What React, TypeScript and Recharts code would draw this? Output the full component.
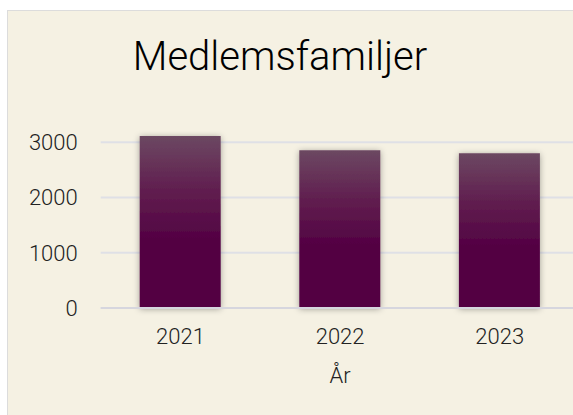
import { BarChart, Bar, XAxis, YAxis, CartesianGrid } from 'recharts';

const years = ['2021', '2022', '2023'];
const families = [3110, 2855, 2800];
const yTicks = [0, 1000, 2000, 3000];

const data = years.map((year, i) => ({ year, families: families[i] }));

const font = 'Roboto, "Noto Sans", sans-serif';

export default function App() {
  return (
    <div style={{ position: 'absolute', left: 0, top: 0, width: 573, height: 415, overflow: 'hidden', background: '#fff' }}>
      <div
        style={{
          position: 'absolute',
          left: 7,
          top: 10,
          width: 600,
          height: 440,
          background: '#f5f1e3',
          border: '1px solid #dcdcdc',
        }}
      />
      <div
        style={{
          position: 'absolute',
          left: 80,
          top: 32,
          width: 400,
          textAlign: 'center',
          fontFamily: font,
          fontSize: 40,
          fontWeight: 300,
          color: '#000',
          lineHeight: '50px',
        }}
      >
        Medlemsfamiljer
      </div>
      <div style={{ position: 'absolute', left: 0, top: 0 }}>
        <BarChart
          width={620}
          height={415}
          data={data}
          margin={{ top: 114.5, right: 40.5, bottom: 37, left: 0 }}
          style={{ fontFamily: font }}
        >
          <defs>
            <linearGradient id="barFill" x1="0" y1="0" x2="0" y2="1">
              <stop offset="0%" stopColor="#6c4862" />
              <stop offset="30%" stopColor="#612050" />
              <stop offset="60%" stopColor="#530243" />
              <stop offset="100%" stopColor="#520042" />
            </linearGradient>
            <filter id="barShadow" x="-20%" y="-10%" width="140%" height="120%">
              <feDropShadow dx="0" dy="1" stdDeviation="3" floodColor="#000" floodOpacity="0.35" />
            </filter>
          </defs>
          <CartesianGrid vertical={false} stroke="#dfe0e6" strokeWidth={2} horizontalValues={yTicks} />
          <XAxis
            dataKey="year"
            height={70}
            axisLine={{ stroke: '#d6d6de', strokeWidth: 2 }}
            tickLine={false}
            tickSize={0}
            tickMargin={20}
            tick={{ fill: '#222', fontSize: 22, fontWeight: 300 }}
            label={{ value: 'År', position: 'insideBottom', offset: -5, fill: '#222', fontSize: 22, fontWeight: 300 }}
          />
          <YAxis
            width={100.7}
            domain={[0, 3500]}
            ticks={yTicks}
            axisLine={false}
            tickLine={false}
            tickSize={0}
            tickMargin={23}
            tick={{ fill: '#222', fontSize: 22, fontWeight: 300 }}
          />
          <Bar
            dataKey="families"
            fill="url(#barFill)"
            barSize={81}
            filter="url(#barShadow)"
            isAnimationActive={false}
          />
        </BarChart>
      </div>
    </div>
  );
}
